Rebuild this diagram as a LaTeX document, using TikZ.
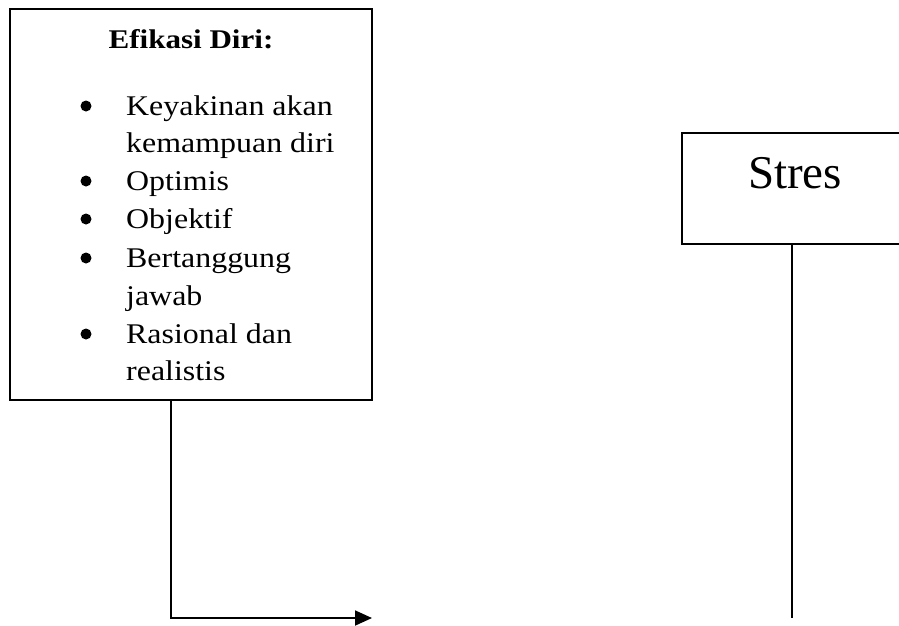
\documentclass[tikz,border=0pt]{standalone}
\usepackage{fontspec}
\setmainfont{Liberation Serif}
\newfontfamily\bodyfont[FakeStretch=1.12]{Liberation Serif}
\newfontfamily\titlefont[FakeStretch=1.15]{Liberation Serif}
\usetikzlibrary{arrows.meta}
\begin{document}
\begin{tikzpicture}[x=1pt,y=-1pt,
  box/.style={draw, line width=1.8pt, inner sep=0pt},
  conn/.style={line width=1.8pt},
  item/.style={anchor=base west, inner sep=0pt, font=\bodyfont\fontsize{28.5}{34}\selectfont},
  dot/.style={circle, fill, inner sep=0pt, minimum size=11pt},
  head/.style={anchor=base, inner sep=0pt, font=\titlefont\bfseries\fontsize{27}{32}\selectfont},
  big/.style={anchor=base, inner sep=0pt, font=\fontsize{47}{56}\selectfont}]
\useasboundingbox (0,0) rectangle (899,625);
\clip (0,0) rectangle (899,625);
% boxes
\node[box, minimum width=362pt, minimum height=391pt] (efikasi) at (191,204.5) {};
\node[box, minimum width=228pt, minimum height=111pt] (stres) at (796,188.5) {};
% texts
\node[head] (title) at (191,48) {Efikasi Diri:};
\node[big] (stresText) at (795,188) {Stres};
\node[dot] (b1) at (86,106) {};
\node[dot] (b2) at (86,181) {};
\node[dot] (b3) at (86,219) {};
\node[dot] (b4) at (86,258) {};
\node[dot] (b5) at (86,334) {};
\node[item] (t1a) at (126,115) {Keyakinan akan};
\node[item] (t1b) at (126,152) {kemampuan diri};
\node[item] (t2) at (126,190) {Optimis};
\node[item] (t3) at (126,228) {Objektif};
\node[item] (t4a) at (126,267) {Bertanggung};
\node[item] (t4b) at (126,305) {jawab};
\node[item] (t5a) at (126,343) {Rasional dan};
\node[item] (t5b) at (126,380) {realistis};
% connectors
\coordinate (corner) at (171,618);
\coordinate (tip) at (372,618);
\coordinate (stresEnd) at (792,618);
\draw[conn, -{Triangle[length=17pt,width=15pt]}] (efikasi.south -| corner) -- (corner) -- (tip);
\draw[conn] (stres.south -| stresEnd) -- (stresEnd);
\end{tikzpicture}
\end{document}
